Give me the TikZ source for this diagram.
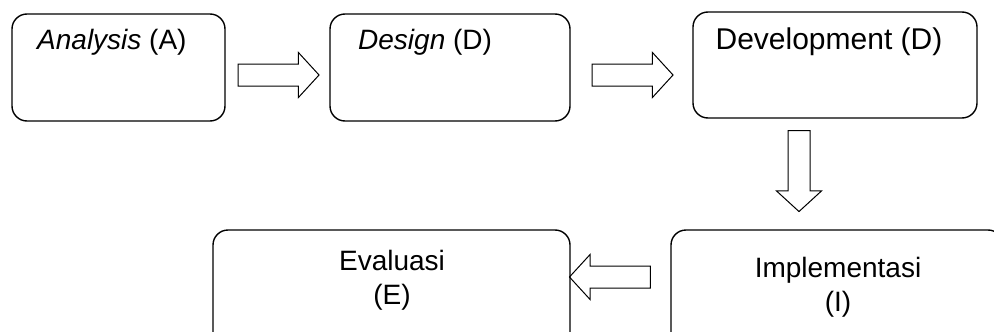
\documentclass[tikz,border=0pt]{standalone}
\usepackage{fontspec}
\setmainfont{Liberation Sans}
\usetikzlibrary{shapes.arrows}

\tikzset{
	stage/.style={draw=black, line width=1.4pt, rounded corners=15pt, inner sep=0pt},
	stagetext/.style={font=\fontsize{28}{34}\selectfont, align=center, inner sep=0pt},
	flowarrow/.style={draw=black, line width=1pt, single arrow, single arrow head extend=11.5pt,
		single arrow tip angle=95, single arrow head indent=0pt,
		minimum height=81pt, inner xsep=0pt, inner ysep=10.5pt, text height=0pt, text depth=0pt}
}

\begin{document}
\begin{tikzpicture}[x=1pt, y=-1pt]
		
		% Frame of the picture
		\clip (0,0) rectangle (994,332);
		
		% Upper row of stages
		\node[stage, minimum width=213pt, minimum height=107pt] (ana) at (118.5,67.5) {};
		\node[stagetext, anchor=west] (anatext) at (37,42) {\textit{Analysis} (A)};
		
		\node[stage, minimum width=240pt, minimum height=107pt] (des) at (450,67.5) {};
		\node[stagetext, anchor=west] (destext) at (358,42) {\textit{Design} (D)};
		
		\node[stage, minimum width=284pt, minimum height=106pt] (dev) at (835,65) {};
		\node[stagetext, font=\fontsize{30}{34}\selectfont] (devtext) at (829,42) {Development (D)};
		
		% Lower row of stages (cut by the lower edge)
		\node[stage, minimum width=357pt, minimum height=120pt] (eva) at (391.5,290) {};
		\node[stagetext] (evatext) at (392,280) {Evaluasi\\(E)};
		
		\node[stage, minimum width=332pt, minimum height=120pt] (imp) at (837,290) {};
		\node[stagetext] (imptext) at (838,287) {Implementasi\\(I)};
		
		% Block arrows between the stages
		\node[flowarrow] (a2d) at (273.5,75) {};
		\node[flowarrow] (d2v) at (627.5,75) {};
		\node[flowarrow, rotate=-90] (v2i) at (799,166) {};
		\node[flowarrow, rotate=180] (i2e) at (615,277) {};
		
	\end{tikzpicture}
\end{document}
